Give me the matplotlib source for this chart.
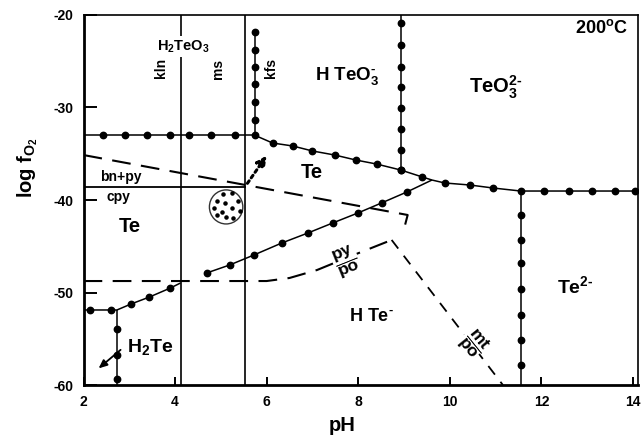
import matplotlib

matplotlib.use("Agg")
import matplotlib.pyplot as plt
from matplotlib.patches import Ellipse

plt.rcParams["font.family"] = ["Liberation Sans", "DejaVu Sans"]
plt.rcParams["font.weight"] = "bold"
plt.rcParams["mathtext.fontset"] = "custom"
plt.rcParams["mathtext.rm"] = "Liberation Sans:bold"
plt.rcParams["mathtext.it"] = "Liberation Sans:bold"
plt.rcParams["mathtext.bf"] = "Liberation Sans:bold"

# --- Te species boundaries (solid line with dots): pH, log fO2, dotted vertices
h2teo3_te_ph = [2.0, 2.42, 2.9, 3.38, 3.88, 4.3, 4.78, 5.3, 5.74]
h2teo3_te_lf = [-33.0, -33.0, -33.0, -33.0, -33.0, -33.0, -33.0, -33.0, -33.0]
h2teo3_te_dots = [1, 2, 3, 4, 5, 6, 7, 8]

kfs_ph = [5.74, 5.74, 5.74, 5.74, 5.74, 5.74, 5.74]
kfs_lf = [-33.0, -31.35, -29.4, -27.46, -25.6, -23.8, -21.84]
kfs_dots = [1, 2, 3, 4, 5, 6]

te_hteo3_ph = [5.74, 6.13, 6.57, 7.0, 7.49, 7.95, 8.4, 8.93]
te_hteo3_lf = [-33.0, -33.84, -34.16, -34.7, -35.14, -35.68, -36.11, -36.76]
te_hteo3_dots = [1, 2, 3, 4, 5, 6, 7]

hteo3_teo3_ph = [8.93, 8.93, 8.93, 8.93, 8.93, 8.93, 8.93, 8.93, 8.93]
hteo3_teo3_lf = [-20.0, -20.83, -23.24, -25.59, -27.82, -30.09, -32.36, -34.59, -36.76]
hteo3_teo3_dots = [1, 2, 3, 4, 5, 6, 7, 8]

te_teo3_ph = [8.93, 9.4, 9.61, 9.89, 10.44, 10.94, 11.55, 12.05, 12.6, 13.1, 13.6, 14.04, 14.1]
te_teo3_lf = [-36.76, -37.51, -37.84, -38.16, -38.38, -38.7, -39.03, -39.03, -39.03,
              -39.03, -39.03, -39.03, -39.03]
te_teo3_dots = [1, 3, 4, 5, 6, 7, 8, 9, 10, 11]

te2_ph = [11.55, 11.55, 11.55, 11.55, 11.55, 11.55, 11.55, 11.55, 11.55]
te2_lf = [-39.03, -41.62, -44.32, -46.81, -49.62, -52.43, -55.14, -57.84, -60.0]
te2_dots = [1, 2, 3, 4, 5, 6, 7]

te_hte_ph = [9.61, 9.06, 8.51, 7.99, 7.44, 6.9, 6.33, 5.72, 5.19, 4.69]
te_hte_lf = [-37.84, -39.14, -40.32, -41.41, -42.49, -43.57, -44.65, -45.95, -47.03, -47.89]
te_hte_dots = [1, 2, 3, 4, 5, 6, 7, 8, 9]

te_h2te_ph = [2.0, 2.15, 2.59, 2.73, 3.04, 3.44, 3.9, 4.12]
te_h2te_lf = [-51.89, -51.89, -51.89, -51.89, -51.24, -50.49, -49.51, -48.97]
te_h2te_dots = [1, 2, 4, 5, 6]

h2te_hte_ph = [2.73, 2.73, 2.73, 2.73, 2.73]
h2te_hte_lf = [-51.89, -53.95, -56.76, -59.35, -60.0]
h2te_hte_dots = [1, 2, 3]

# --- silicate boundaries (plain vertical lines)
kln_ph = [4.14, 4.14]
ms_ph = [5.52, 5.52]
full_lf = [-60.0, -20.0]

# --- sulfide boundaries
bnpy_cpy_ph = [2.0, 5.52]
bnpy_cpy_lf = [-38.6, -38.6]
upper_dash_ph = [2.0, 9.08, 9.0]
upper_dash_lf = [-35.14, -41.62, -43.14]
py_po_ph = [2.0, 6.0, 6.5, 7.1, 7.9, 8.73]
py_po_lf = [-48.76, -48.76, -48.43, -47.57, -45.95, -44.32]
mt_po_ph = [8.73, 11.16]
mt_po_lf = [-44.32, -60.0]

# --- fluid inclusion field (circle) and its speckles
incl_center = (5.115, -40.75)
incl_size = (0.73, 3.68)
incl_dots_ph = [5.04, 5.24, 4.91, 5.09, 5.38, 4.85, 5.25, 5.02, 5.41, 4.91, 5.11, 5.27]
incl_dots_lf = [-39.38, -39.21, -40.07, -40.36, -40.11, -40.83, -40.9, -41.26, -41.19,
                -41.62, -41.87, -41.91]

# arrows: (start, tip)
dotted_arrow = ((5.58, -38.2), (6.0, -35.2))
h2te_arrow = ((2.81, -56.2), (2.33, -58.2))

x_ticks = [2, 4, 6, 8, 10, 12, 14]
y_ticks = [-20, -30, -40, -50, -60]

fig = plt.figure(figsize=(6.41, 4.36), dpi=100)
ax = fig.add_axes([83.5 / 641, 51 / 436, 554 / 641, 370 / 436])
ax.set_xlim(2, 14.1)
ax.set_ylim(-60, -20)


def dotted_boundary(ph, lf, dots):
    ax.plot(ph, lf, color="black", lw=1.1, marker="o", ms=4.6,
            markevery=dots, solid_capstyle="butt", zorder=3)


dotted_boundary(h2teo3_te_ph, h2teo3_te_lf, h2teo3_te_dots)
dotted_boundary(kfs_ph, kfs_lf, kfs_dots)
dotted_boundary(te_hteo3_ph, te_hteo3_lf, te_hteo3_dots)
dotted_boundary(hteo3_teo3_ph, hteo3_teo3_lf, hteo3_teo3_dots)
dotted_boundary(te_teo3_ph, te_teo3_lf, te_teo3_dots)
dotted_boundary(te2_ph, te2_lf, te2_dots)
dotted_boundary(te_hte_ph, te_hte_lf, te_hte_dots)
dotted_boundary(te_h2te_ph, te_h2te_lf, te_h2te_dots)
dotted_boundary(h2te_hte_ph, h2te_hte_lf, h2te_hte_dots)

ax.plot(kln_ph, full_lf, color="black", lw=1.2, zorder=2)
ax.plot(ms_ph, full_lf, color="black", lw=1.2, zorder=2)
ax.plot(bnpy_cpy_ph, bnpy_cpy_lf, color="black", lw=1.3, zorder=2)

ax.plot(upper_dash_ph, upper_dash_lf, color="black", lw=1.5, dashes=(9, 5), zorder=2)
ax.plot(py_po_ph, py_po_lf, color="black", lw=1.5, dashes=(9, 5), zorder=2)
ax.plot(mt_po_ph, mt_po_lf, color="black", lw=1.3, dashes=(6, 5), zorder=2)

ax.add_patch(Ellipse(incl_center, incl_size[0], incl_size[1], fill=False,
                     lw=1.0, color="#333333", zorder=3))
ax.scatter(incl_dots_ph, incl_dots_lf, s=5, color="black", zorder=3)

ax.annotate("", xy=dotted_arrow[1], xytext=dotted_arrow[0],
            arrowprops=dict(arrowstyle="-|>,head_length=0.6,head_width=0.3",
                            lw=2.2, ls=(0, (1, 1.2)), color="black",
                            shrinkA=0, shrinkB=0))
ax.annotate("", xy=h2te_arrow[1], xytext=h2te_arrow[0],
            arrowprops=dict(arrowstyle="-|>,head_length=0.5,head_width=0.22",
                            lw=1.3, color="black", shrinkA=0, shrinkB=0))

# region labels
ax.text(6.98, -37.0, "Te", fontsize=14.5, ha="center", va="center")
ax.text(3.02, -42.9, "Te", fontsize=14.5, ha="center", va="center")
ax.text(3.45, -55.9, r"H$_2$Te", fontsize=14, ha="center", va="center")
ax.text(8.3, -52.6, r"H Te$^{\text{-}}$", fontsize=13, ha="center", va="center")
ax.text(12.75, -49.3, r"Te$^{2\text{-}}$", fontsize=14, ha="center", va="center")
ax.text(7.75, -26.6, r"H TeO$_3^{\text{-}}$", fontsize=13.5, ha="center", va="center")
ax.text(11.0, -27.8, r"TeO$_3^{2\text{-}}$", fontsize=14.5, ha="center", va="center")
ax.text(13.9, -21.4, r"200$^{\mathrm{o}}$C", fontsize=13, ha="right", va="center")
ax.text(4.18, -23.4, r"H$_2$TeO$_3$", fontsize=10.5, ha="center", va="center",
        bbox=dict(facecolor="white", edgecolor="none", pad=1.5), zorder=4)
ax.text(3.7, -25.7, "kln", fontsize=10, rotation=90, ha="center", va="center")
ax.text(4.94, -25.8, "ms", fontsize=10, rotation=90, ha="center", va="center")
ax.text(6.1, -25.7, "kfs", fontsize=10, rotation=90, ha="center", va="center")
ax.text(2.82, -37.5, "bn+py", fontsize=10, ha="center", va="center")
ax.text(2.76, -39.7, "cpy", fontsize=10, ha="center", va="center")
ax.text(7.75, -46.7, r"$\dfrac{\mathrm{py}}{\mathrm{po}}$", fontsize=12.5,
        rotation=22, ha="center", va="center", rotation_mode="anchor",
        bbox=dict(facecolor="white", edgecolor="none", pad=0.5))
ax.text(10.5, -55.5, r"$\dfrac{\mathrm{mt}}{\mathrm{po}}$", fontsize=12.5,
        rotation=-51, ha="center", va="center", rotation_mode="anchor",
        bbox=dict(facecolor="white", edgecolor="none", pad=0.5))

ax.set_xticks(x_ticks)
ax.set_yticks(y_ticks)
ax.set_xticklabels([str(v) for v in x_ticks])
ax.set_yticklabels([str(v) for v in y_ticks])
ax.tick_params(axis="x", direction="in", length=6, width=1.4, labelsize=10, pad=7)
ax.tick_params(axis="y", direction="in", length=9, width=1.4, labelsize=10, pad=7)
for side in ("left", "bottom"):
    ax.spines[side].set_linewidth(2.0)
for side in ("top", "right"):
    ax.spines[side].set_linewidth(1.2)

fig.text(342 / 641, 1 - 425 / 436, "pH", fontsize=14.5, ha="center", va="center")
fig.text(28 / 641, 1 - 168 / 436, r"log f$_{\mathrm{O_2}}$", fontsize=14.5,
         rotation=90, ha="center", va="center")

fig.savefig("out.png", dpi=100)
